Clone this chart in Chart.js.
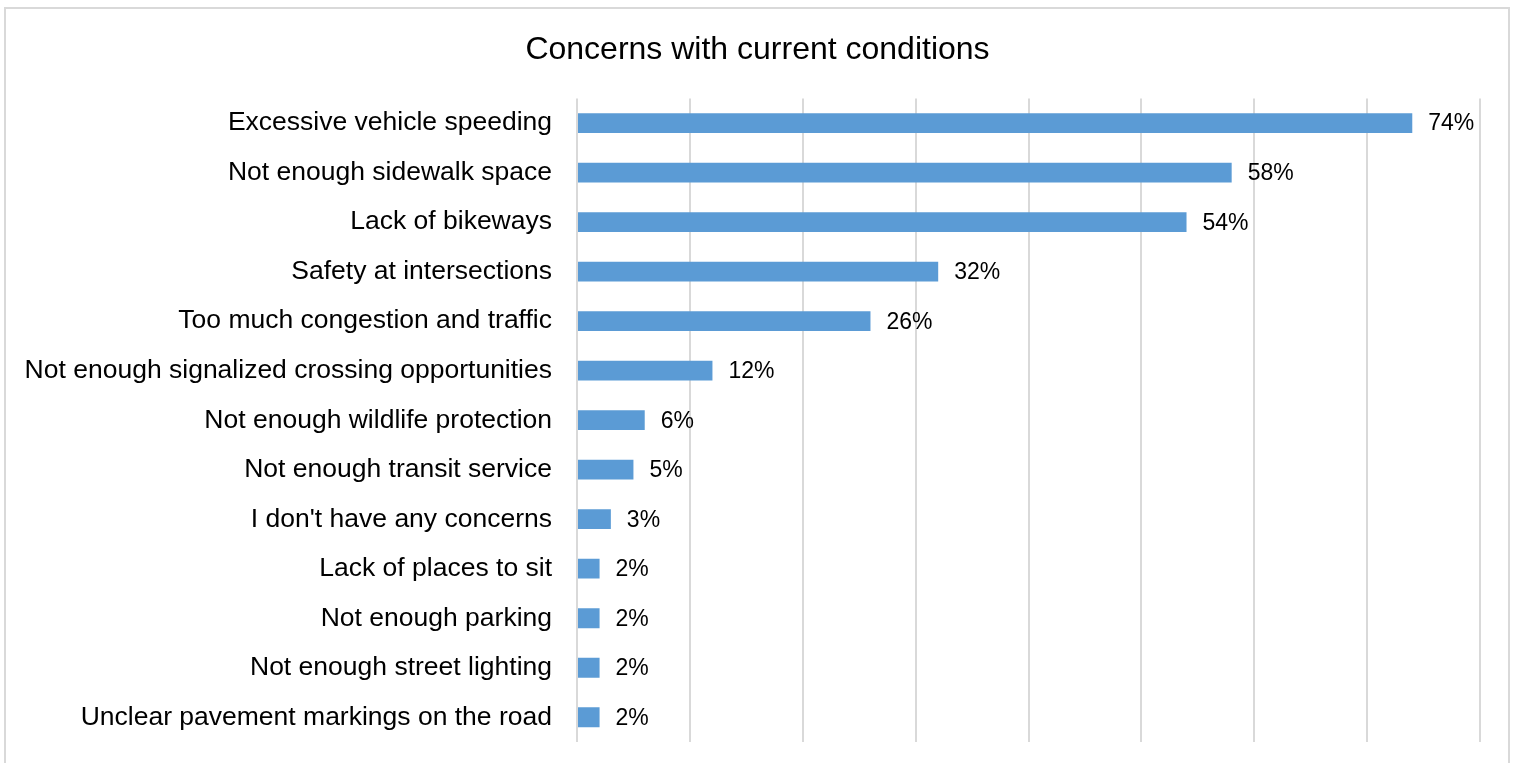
<!DOCTYPE html>
<html>
<head>
<meta charset="utf-8">
<title>Concerns with current conditions</title>
<script src="https://cdn.jsdelivr.net/npm/chart.js@4.4.1/dist/chart.umd.min.js"></script>
<style>
    html, body { margin: 0; padding: 0; background: #ffffff; overflow: hidden; }
    #frame {
        position: absolute; left: 4px; top: 7px;
        width: 1502px; height: 800px;
        border: 2px solid #d9d9d9;
    }
    #wrap { position: absolute; left: 0; top: 0; width: 1515px; height: 763px; }
</style>
</head>
<body>
<div id="frame"></div>
<div id="wrap"><canvas id="barChart" width="1515" height="763"></canvas></div>
<script>
var categorias = [
    'Excessive vehicle speeding',
    'Not enough sidewalk space',
    'Lack of bikeways',
    'Safety at intersections',
    'Too much congestion and traffic',
    'Not enough signalized crossing opportunities',
    'Not enough wildlife protection',
    'Not enough transit service',
    "I don't have any concerns",
    'Lack of places to sit',
    'Not enough parking',
    'Not enough street lighting',
    'Unclear pavement markings on the road'
];
var percentuais = [74, 58, 54, 32, 26, 12, 6, 5, 3, 2, 2, 2, 2];
var eixoMin = 0;
var eixoMax = 80;
var eixoPasso = 10;

// rotulos de valor no fim de cada barra
var rotulosPlugin = {
    id: 'rotulos',
    afterLayout: function (chart) {
        // titulo centrado na largura toda do canvas
        if (chart.titleBlock) {
            chart.titleBlock.left = 0;
            chart.titleBlock.right = chart.width;
            chart.titleBlock.width = chart.width;
        }
    },
    afterDatasetsDraw: function (chart) {
        var ctx = chart.ctx;
        var meta = chart.getDatasetMeta(0);
        ctx.save();
        ctx.font = '23px "Liberation Sans", Arial, sans-serif';
        ctx.fillStyle = '#000000';
        ctx.textAlign = 'left';
        ctx.textBaseline = 'middle';
        for (var i = 0; i < meta.data.length; i++) {
            var bar = meta.data[i];
            ctx.fillText(percentuais[i] + '%', bar.x + 16, bar.y + 1);
        }
        ctx.restore();
    }
};

function Charts() {
    var ctx = document.getElementById('barChart').getContext('2d');

    var barData = {
        labels: categorias,
        datasets: [
            {
                data: percentuais,
                backgroundColor: '#5b9bd5',
                borderWidth: 0,
                barPercentage: 0.4,
                categoryPercentage: 1.0
            }
        ]
    };

    var barOptions = {
        indexAxis: 'y',
        responsive: false,
        maintainAspectRatio: false,
        animation: false,
        layout: {
            padding: { left: 0, right: 35, top: 0, bottom: 21 }
        },
        plugins: {
            legend: { display: false },
            tooltip: { enabled: false },
            title: {
                display: true,
                text: 'Concerns with current conditions',
                color: '#000000',
                font: { family: '"Liberation Sans", Arial, sans-serif', size: 32, weight: 'normal' },
                padding: { top: 31, bottom: 29 }
            }
        },
        scales: {
            x: {
                min: eixoMin,
                max: eixoMax,
                ticks: { display: false, stepSize: eixoPasso },
                grid: { color: '#d9d9d9', lineWidth: 2, drawTicks: false },
                border: { display: false }
            },
            y: {
                grid: { display: false, drawTicks: false },
                border: { display: false },
                ticks: {
                    color: '#000000',
                    padding: 25,
                    font: { family: '"Liberation Sans", Arial, sans-serif', size: 26.5 }
                },
                afterFit: function (scale) {
                    scale.width = 577;
                    scale.paddingTop = 0;
                    scale.paddingBottom = 0;
                }
            }
        }
    };

    new Chart(ctx, {
        type: 'bar',
        data: barData,
        options: barOptions,
        plugins: [rotulosPlugin]
    });
}

Charts();
</script>
</body>
</html>
